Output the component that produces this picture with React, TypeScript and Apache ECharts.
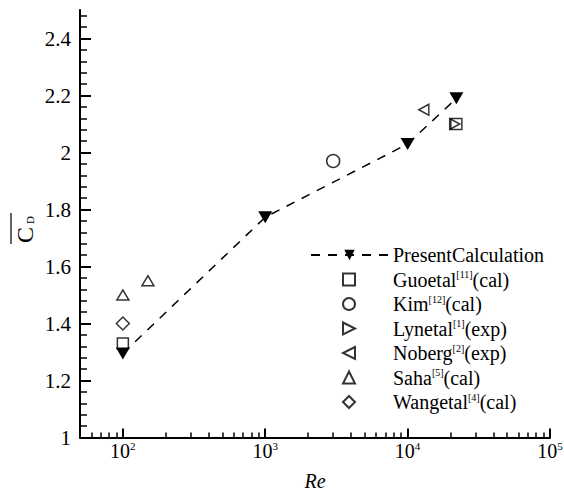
import React, { useEffect, useRef } from 'react';
import * as echarts from 'echarts';

// ---- data ----
const presentRe = [100, 1000, 10000, 22000];
const presentCd = [1.295, 1.773, 2.03, 2.19];
const guoRe = [100, 22000];
const guoCd = [1.33, 2.1];
const kimRe = [3000];
const kimCd = [1.97];
const lynRe = [21400];
const lynCd = [2.1];
const nobergRe = [13000];
const nobergCd = [2.15];
const sahaRe = [100, 150];
const sahaCd = [1.5, 1.55];
const wangRe = [100];
const wangCd = [1.4];

// ---- ticks ----
const xMajorTicks = [100, 1000, 10000, 100000];
const xMinorTicks = [60, 70, 80, 90, 200, 300, 400, 500, 600, 700, 800, 900, 2000, 3000, 4000, 5000, 6000, 7000, 8000, 9000, 20000, 30000, 40000, 50000, 60000, 70000, 80000, 90000];
const yMajorTicks = [1, 1.2, 1.4, 1.6, 1.8, 2, 2.2, 2.4];
const yMinorTicks = [1.04, 1.08, 1.12, 1.16, 1.24, 1.28, 1.32, 1.36, 1.44, 1.48, 1.52, 1.56, 1.64, 1.68, 1.72, 1.76, 1.84, 1.88, 1.92, 1.96, 2.04, 2.08, 2.12, 2.16, 2.24, 2.28, 2.32, 2.36, 2.44, 2.48];

const lineSeriesName = 'PresentCalculation';
const scatterNames = ['Guoetal(cal)', 'Kim(cal)', 'Lynetal(exp)', 'Noberg(exp)', 'Saha(cal)', 'Wangetal(cal)'];
const legendLabels: Record<string, string> = {
  'PresentCalculation': 'PresentCalculation',
  'Guoetal(cal)': '{pad|}Guoetal{sup|[11]}(cal)',
  'Kim(cal)': '{pad|}Kim{sup|[12]}(cal)',
  'Lynetal(exp)': '{pad|}Lynetal{sup|[1]}(exp)',
  'Noberg(exp)': '{pad|}Noberg{sup|[2]}(exp)',
  'Saha(cal)': '{pad|}Saha{sup|[5]}(cal)',
  'Wangetal(cal)': '{pad|}Wangetal{sup|[4]}(cal)',
};

const FONT = 'Liberation Serif, Times New Roman, serif';

const RIGHT_TRI = 'path://M0,0L10,5L0,10Z';
const LEFT_TRI = 'path://M10,0L0,5L10,10Z';

function pairs(xs: number[], ys: number[]) {
  return xs.map((x, i) => [x, ys[i]]);
}

const hollow = { color: 'transparent', borderColor: '#000', borderWidth: 1.5 };

export default function App() {
  const ref = useRef<HTMLDivElement>(null);
  useEffect(() => {
    if (!ref.current) return;
    const chart = echarts.init(ref.current, null, { renderer: 'svg' });
    const axisLine = { show: true, lineStyle: { color: '#000', width: 2 } };
    const legendText = {
      fontFamily: FONT, fontSize: 20, lineHeight: 20, color: '#000',
      rich: {
        sup: { fontSize: 10, verticalAlign: 'top', lineHeight: 10, fontFamily: FONT, color: '#000' },
        pad: { width: 33 },
      },
    };
    chart.setOption({
      animation: false,
      textStyle: { fontFamily: FONT, color: '#000' },
      grid: { left: 80, right: 14, top: 10, bottom: 53.5, containLabel: false, outerBoundsMode: 'none' },
      xAxis: [
        {
          type: 'log', logBase: 10, min: 50, max: 100000, position: 'bottom',
          name: 'Re', nameLocation: 'middle', nameGap: 33,
          nameTextStyle: { fontFamily: FONT, fontSize: 20, fontStyle: 'italic', color: '#000' },
          axisLine,
          axisTick: { show: true, inside: true, length: 9, lineStyle: { color: '#000', width: 2 }, customValues: xMajorTicks },
          axisLabel: {
            show: true, margin: 3, customValues: xMajorTicks, color: '#000',
            fontFamily: FONT, fontSize: 20, lineHeight: 20,
            formatter: (v: number) => '10{sup|' + Math.round(Math.log10(v)) + '}',
            rich: { sup: { fontSize: 11, verticalAlign: 'top', lineHeight: 11, fontFamily: FONT, color: '#000' } },
          },
          splitLine: { show: false },
          minorTick: { show: false },
        },
        {
          type: 'log', logBase: 10, min: 50, max: 100000, position: 'bottom',
          axisLine: { show: false },
          axisTick: { show: true, inside: true, length: 5, lineStyle: { color: '#000', width: 1.5 }, customValues: xMinorTicks },
          axisLabel: { show: false },
          splitLine: { show: false },
        },
      ],
      yAxis: [
        {
          type: 'value', min: 1, max: 2.5, position: 'left',
          axisLine,
          axisTick: { show: true, inside: true, length: 11, lineStyle: { color: '#000', width: 2 }, customValues: yMajorTicks },
          axisLabel: { show: true, margin: 9, customValues: yMajorTicks, color: '#000', fontFamily: FONT, fontSize: 21 },
          splitLine: { show: false },
        },
        {
          type: 'value', min: 1, max: 2.5, position: 'left',
          axisLine: { show: false },
          axisTick: { show: true, inside: true, length: 7, lineStyle: { color: '#000', width: 1.5 }, customValues: yMinorTicks },
          axisLabel: { show: false },
          splitLine: { show: false },
        },
      ],
      legend: [
        {
          orient: 'vertical', left: 305, top: 240, itemWidth: 77, itemHeight: 13, itemGap: 4.5,
          data: [lineSeriesName],
          formatter: (name: string) => legendLabels[name],
          textStyle: legendText,
        },
        {
          orient: 'vertical', left: 337, top: 264.5, itemWidth: 12, itemHeight: 12, itemGap: 4.5,
          data: scatterNames,
          formatter: (name: string) => legendLabels[name],
          textStyle: legendText,
        },
      ],
      graphic: [
        {
          type: 'group', x: 25, y: 228, rotation: Math.PI / 2,
          children: [
            { type: 'text', x: -7, y: 0, style: { text: 'C', fontFamily: FONT, fontSize: 24, fill: '#000', align: 'center', verticalAlign: 'middle' } },
            { type: 'text', x: 8, y: 5, style: { text: 'D', fontFamily: FONT, fontSize: 11, fill: '#000', align: 'center', verticalAlign: 'middle' } },
            { type: 'line', shape: { x1: -16, y1: -14, x2: 15, y2: -14 }, style: { stroke: '#000', lineWidth: 1.2 } },
          ],
        },
      ],
      series: [
        {
          name: lineSeriesName, type: 'line', xAxisIndex: 0, yAxisIndex: 0,
          data: pairs(presentRe, presentCd),
          symbol: 'triangle', symbolRotate: 180, symbolSize: [14, 12],
          itemStyle: { color: '#000' },
          lineStyle: { color: '#000', width: 1.5, type: [9, 8] },
          z: 3,
        },
        {
          name: 'Guoetal(cal)', type: 'scatter', data: pairs(guoRe, guoCd),
          symbol: 'rect', symbolSize: 11, itemStyle: hollow,
        },
        {
          name: 'Kim(cal)', type: 'scatter', data: pairs(kimRe, kimCd),
          symbol: 'circle', symbolSize: 13, itemStyle: hollow,
        },
        {
          name: 'Lynetal(exp)', type: 'scatter', data: pairs(lynRe, lynCd),
          symbol: RIGHT_TRI, symbolSize: [10, 11], itemStyle: hollow,
        },
        {
          name: 'Noberg(exp)', type: 'scatter', data: pairs(nobergRe, nobergCd),
          symbol: LEFT_TRI, symbolSize: [10, 11], itemStyle: hollow,
        },
        {
          name: 'Saha(cal)', type: 'scatter', data: pairs(sahaRe, sahaCd),
          symbol: 'triangle', symbolSize: [12, 10], itemStyle: hollow,
        },
        {
          name: 'Wangetal(cal)', type: 'scatter', data: pairs(wangRe, wangCd),
          symbol: 'diamond', symbolSize: [13, 13], itemStyle: hollow,
        },
      ],
    });
    return () => chart.dispose();
  }, []);
  return <div ref={ref} style={{ position: 'fixed', left: 0, top: 0, width: 564, height: 491, background: '#fff' }} />;
}
